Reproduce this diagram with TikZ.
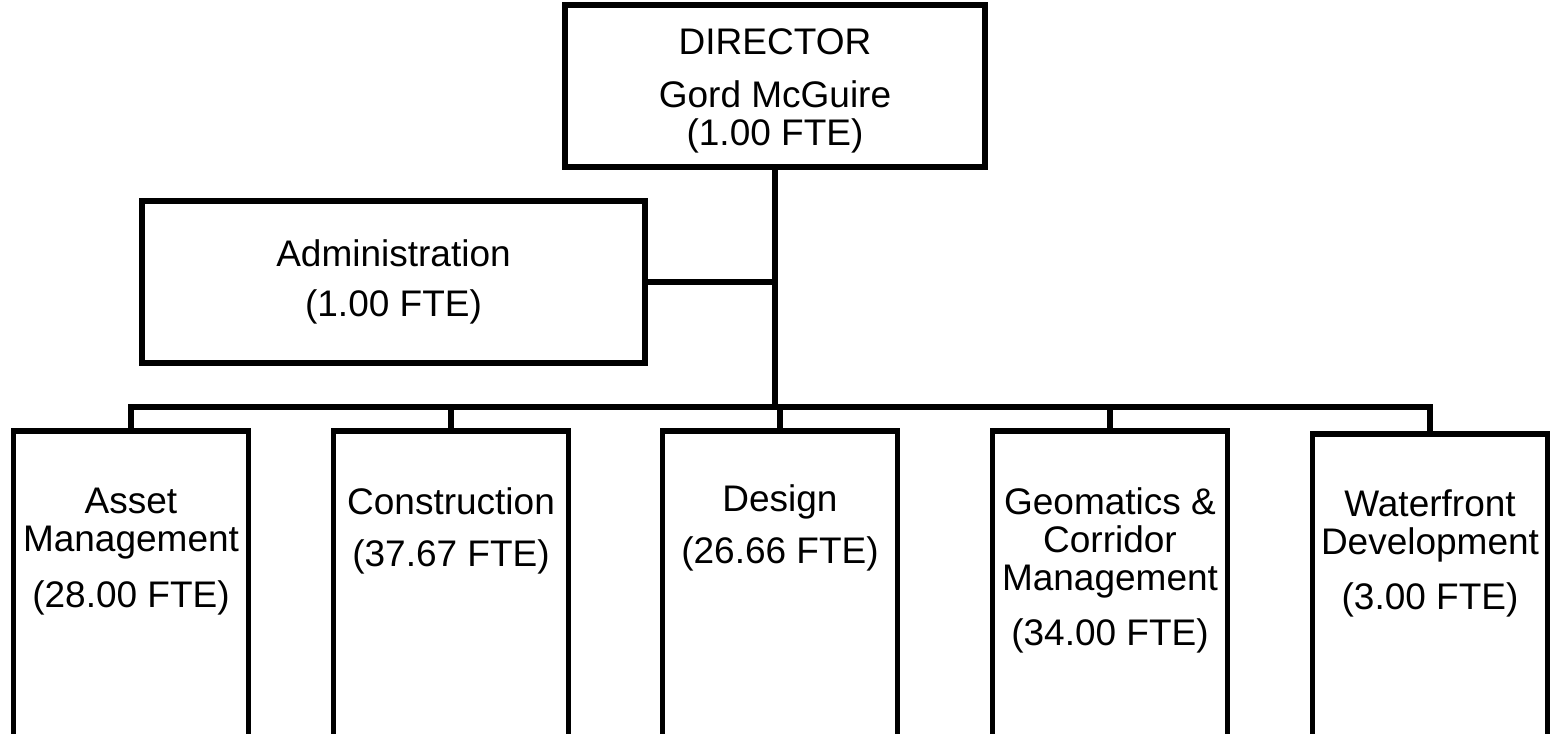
\documentclass[tikz,border=0pt]{standalone}
\usepackage{fontspec}
\setmainfont{Liberation Sans}
\usetikzlibrary{positioning}

\begin{document}
\begin{tikzpicture}[
	x=0.5pt, y=-0.5pt,
	unit/.style={rectangle, draw, line width=2.9pt},
	dept/.style={rectangle, draw, line width=2.9pt, anchor=north, minimum width=117.5pt, minimum height=200pt},
	boxtext/.style={align=center, inner sep=0pt, font=\fontsize{18.5}{19}\selectfont},
	link/.style={line width=2.6pt}
	]
	\useasboundingbox (0,0) rectangle (1551,733);
	\clip (0,0) rectangle (1551,733);
	% Top of the chart
	\node[unit, minimum width=210pt, minimum height=81pt] (director) at (775,86) {};
	\node[unit, minimum width=251.5pt, minimum height=81pt] (admin) at (393.5,282) {};
	\node[boxtext, below=13.25pt of director.north] (directorlbl) {DIRECTOR\\[7.5pt]Gord McGuire\\(1.00 FTE)};
	\node[boxtext, below=20.5pt of admin.north] (adminlbl) {Administration\\[6pt](1.00 FTE)};
	\coordinate[below=118.5pt of director.south] (bus);
	
	% Departments
	\node[dept] (asset) at (131,428) {};
	\node[dept] (constr) at (451,428) {};
	\node[dept] (design) at (780,428) {};
	\node[dept] (geo) at (1110,428) {};
	\node[dept] (water) at (1430,431) {};
	\node[boxtext, below=29.75pt of asset.north] (assetlbl) {Asset\\Management\\[9pt](28.00 FTE)};
	\node[boxtext, below=29.75pt of constr.north] (constrlbl) {Construction\\[7pt](37.67 FTE)};
	\node[boxtext, below=28.25pt of design.north] (designlbl) {Design\\[7pt](26.66 FTE)};
	\node[boxtext, below=29.5pt of geo.north] (geolbl) {Geomatics \&\\Corridor\\Management\\[8.5pt](34.00 FTE)};
	\node[boxtext, below=29.25pt of water.north] (waterlbl) {Waterfront\\Development\\[8.5pt](3.00 FTE)};
	
	% Lines
	\draw[link] (director.south) -- (bus);
	\draw[link] (admin.east) -- (admin.east -| bus);
	\foreach \d in {asset, constr, design, geo, water}
		\draw[link] (bus) -| (\d.north);
\end{tikzpicture}
\end{document}
